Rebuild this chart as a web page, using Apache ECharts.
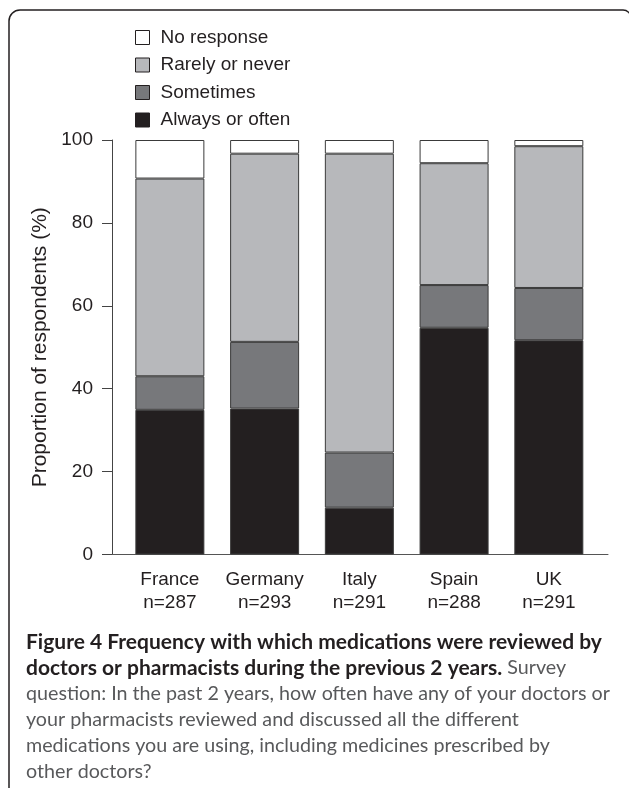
<!DOCTYPE html>
<html>
<head>
<meta charset="utf-8">
<script src="https://cdn.jsdelivr.net/npm/echarts@6/dist/echarts.min.js"></script>
<style>
  html, body { margin: 0; padding: 0; background: #fff; }
  #chart { width: 629px; height: 788px; }
</style>
</head>
<body>
<div id="chart"></div>
<script>
// countries and sample sizes
const countries = ['France', 'Germany', 'Italy', 'Spain', 'UK'];
const sampleSizes = [287, 293, 291, 288, 291];

// % of respondents
const alwaysOften = [34.9, 35.2, 11.3, 54.7, 51.7];
const sometimes = [8.1, 16.1, 13.3, 10.3, 12.6];
const rarelyNever = [47.7, 45.4, 72.1, 29.4, 34.2];
const noResponse = [9.3, 3.3, 3.3, 5.6, 1.5];

const yTicks = [0, 20, 40, 60, 80, 100];

const ink = '#231f20';
const chartFont = 'Liberation Sans';
const captionFont = 'Lato';

let myChart = echarts.init(document.getElementById('chart'));

function stackSeries(name, data, color) {
  return {
    name: name,
    type: 'bar',
    stack: 'total',
    xAxisIndex: 1,
    yAxisIndex: 1,
    barWidth: 69,
    data: data,
    itemStyle: { color: color, borderColor: '#3a3a3a', borderWidth: 1 },
    emphasis: { disabled: true }
  };
}

let option = {
  backgroundColor: '#fff',
  animation: false,
  textStyle: { fontFamily: chartFont, color: ink },
  legend: {
    orient: 'vertical',
    left: 130,
    top: 23,
    itemWidth: 14,
    itemHeight: 14,
    itemGap: 8.5,
    icon: 'rect',
    selectedMode: false,
    data: ['No response', 'Rarely or never', 'Sometimes', 'Always or often'],
    itemStyle: { borderColor: ink, borderWidth: 1 },
    textStyle: { fontFamily: chartFont, fontSize: 19, color: ink, padding: [0, 0, 0, 6] }
  },
  grid: [
    { left: 112, right: 21, top: 140, bottom: 233.5 },
    { left: 122.5, right: 32.8, top: 140, bottom: 233.5 }
  ],
  xAxis: [
    {
      gridIndex: 0,
      type: 'value',
      min: 0,
      max: 1,
      axisLine: { show: true, lineStyle: { color: '#555', width: 1 } },
      axisTick: { show: false },
      axisLabel: { show: false },
      splitLine: { show: false }
    },
    {
      gridIndex: 1,
      type: 'category',
      data: countries,
      axisLine: { show: false },
      axisTick: { show: false },
      axisLabel: {
        interval: 0,
        margin: 14,
        fontSize: 19,
        lineHeight: 23,
        color: ink,
        fontFamily: chartFont,
        formatter: function (v, i) { return v + '\nn=' + sampleSizes[i]; }
      }
    }
  ],
  yAxis: [
    {
      gridIndex: 0,
      type: 'value',
      min: yTicks[0],
      max: yTicks[yTicks.length - 1],
      interval: 20,
      name: 'Proportion of respondents (%)',
      nameLocation: 'middle',
      nameGap: 48,
      nameTextStyle: { fontSize: 21, color: ink, fontFamily: chartFont },
      axisLine: { show: true, lineStyle: { color: '#444', width: 1 } },
      axisTick: { show: true, length: 10, lineStyle: { color: '#444' } },
      axisLabel: { margin: 19, fontSize: 19, color: ink, fontFamily: chartFont },
      splitLine: { show: false }
    },
    {
      gridIndex: 1,
      type: 'value',
      min: 0,
      max: 100,
      show: false
    }
  ],
  series: [
    stackSeries('Always or often', alwaysOften, ink),
    stackSeries('Sometimes', sometimes, '#77787b'),
    stackSeries('Rarely or never', rarelyNever, '#b7b8bb'),
    stackSeries('No response', noResponse, '#ffffff')
  ],
  graphic: [
    {
      // frame around the figure (left + top, right side runs off the page)
      type: 'rect',
      silent: true,
      shape: { x: 9, y: 10, width: 622, height: 800, r: [11, 8, 0, 0] },
      style: { fill: null, stroke: ink, lineWidth: 1.5 }
    },
    {
      type: 'text',
      left: 26,
      top: 629,
      silent: true,
      style: {
        text: '{b|Figure 4 Frequency with which medications were reviewed by}\n' +
              '{b|doctors or pharmacists during the previous 2 years.}{r| Survey}\n' +
              '{r|question: In the past 2 years, how often have any of your doctors or}\n' +
              '{r|your pharmacists reviewed and discussed all the different}\n' +
              '{r|medications you are using, including medicines prescribed by}\n' +
              '{r|other doctors?}',
        fontFamily: captionFont,
        fontSize: 20,
        lineHeight: 26,
        rich: {
          b: { fontFamily: captionFont, fontWeight: 'bold', fontSize: 21, lineHeight: 26, fill: ink },
          r: { fontFamily: captionFont, fontWeight: 'normal', fontSize: 19.7, lineHeight: 26, fill: '#58595b' }
        }
      }
    }
  ]
};

myChart.setOption(option);
</script>
</body>
</html>
